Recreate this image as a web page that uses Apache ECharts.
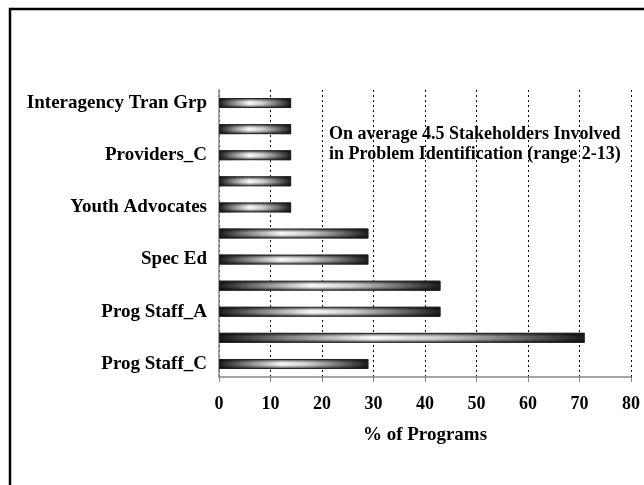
<!DOCTYPE html>
<html>
<head>
<meta charset="utf-8">
<script src="https://cdn.jsdelivr.net/npm/echarts@6/dist/echarts.min.js"></script>
<style>
  html, body { margin: 0; padding: 0; background: #fff; }
  #chart { width: 644px; height: 485px; }
</style>
</head>
<body>
<div id="chart"></div>
<script>
// categories bottom -> top; unlabeled ones are hidden by the label interval
var categories = ['Prog Staff_C', 'Prog Staff_B', 'Prog Staff_A', 'Admin', 'Spec Ed', 'Families',
                  'Youth Advocates', 'Providers_A', 'Providers_C', 'Providers_B', 'Interagency Tran Grp'];
var pctPrograms = [29, 71, 43, 43, 29, 29, 14, 14, 14, 14, 14];
var xTicks = { min: 0, max: 80, step: 10 };
var noteLines = ['On average 4.5 Stakeholders Involved', 'in Problem Identification (range 2-13)'];

var serif = '"Liberation Serif", "Times New Roman", serif';

var chart = echarts.init(document.getElementById('chart'));

// metallic look: horizontal dark-light-dark, then a vertical shade laid over it
var bodyFill = new echarts.graphic.LinearGradient(0, 0, 1, 0, [
    { offset: 0, color: '#1a1a1a' },
    { offset: 0.18, color: '#808080' },
    { offset: 0.42, color: '#f8f8f8' },
    { offset: 0.6, color: '#d0d0d0' },
    { offset: 0.8, color: '#777' },
    { offset: 1, color: '#1a1a1a' }
]);
var shadeFill = new echarts.graphic.LinearGradient(0, 0, 0, 1, [
    { offset: 0, color: 'rgba(0,0,0,0.75)' },
    { offset: 0.38, color: 'rgba(0,0,0,0)' },
    { offset: 0.62, color: 'rgba(0,0,0,0)' },
    { offset: 1, color: 'rgba(0,0,0,0.75)' }
]);

chart.setOption({
    animation: false,
    backgroundColor: '#fff',
    grid: { left: 219, right: 13, top: 90, bottom: 108 },
    xAxis: {
        type: 'value',
        min: xTicks.min,
        max: xTicks.max,
        interval: xTicks.step,
        name: '% of Programs',
        nameLocation: 'middle',
        nameGap: 49,
        nameTextStyle: { fontFamily: serif, fontWeight: 'bold', fontSize: 19, color: '#000' },
        axisLine: { show: true, lineStyle: { color: '#888', width: 1.5 } },
        axisTick: { show: true, length: 5, lineStyle: { color: '#888' } },
        axisLabel: { margin: 18, fontFamily: serif, fontWeight: 'bold', fontSize: 18, color: '#000' },
        splitLine: { show: true, lineStyle: { color: '#000', type: [2, 3], width: 1 } }
    },
    yAxis: {
        type: 'category',
        data: categories,
        axisLine: { show: true, lineStyle: { color: '#888', width: 1.5 } },
        axisTick: { show: false },
        axisLabel: { interval: 1, margin: 12, fontFamily: serif, fontWeight: 'bold', fontSize: 19, color: '#000' },
        splitLine: { show: false }
    },
    series: [
        {
            type: 'bar',
            data: pctPrograms,
            barWidth: 10,
            itemStyle: { color: bodyFill }
        },
        {
            type: 'bar',
            data: pctPrograms,
            barWidth: 10,
            barGap: '-100%',
            silent: true,
            itemStyle: { color: shadeFill, borderColor: '#222', borderWidth: 1 }
        }
    ],
    graphic: [
        {
            type: 'rect',
            shape: { x: 10, y: 9, width: 700, height: 600 },
            style: { fill: 'none', stroke: '#000', lineWidth: 2.5 },
            silent: true
        },
        {
            type: 'text',
            left: 329,
            top: 124,
            style: {
                text: noteLines.join('\n'),
                font: 'bold 18px ' + serif,
                lineHeight: 20,
                fill: '#000'
            }
        }
    ]
});
</script>
</body>
</html>
